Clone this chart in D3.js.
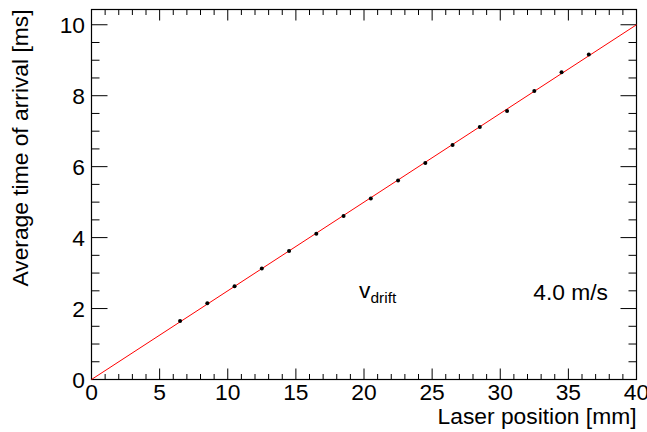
<!DOCTYPE html>
<html>
<head>
<meta charset="utf-8">
<script src="https://cdn.jsdelivr.net/npm/d3@7"></script>
<style>
  body { margin: 0; background: #fff; }
  text { font-family: "Liberation Sans", Arial, sans-serif; fill: #000; }
</style>
</head>
<body>
<div id="chart"></div>
<script>
// measured points
var positions = [6.5, 8.5, 10.5, 12.5, 14.5, 16.5, 18.5, 20.5, 22.5, 24.5, 26.5, 28.5, 30.5, 32.5, 34.5, 36.5];
var arrivalTimes = [1.65, 2.15, 2.63, 3.13, 3.62, 4.11, 4.61, 5.10, 5.61, 6.10, 6.61, 7.12, 7.57, 8.13, 8.66, 9.16];
// fit line: t = x / v, v = 4.0 m/s
var fitX = [0, 40];
var fitY = [0, 10];
var xTicks = [0, 5, 10, 15, 20, 25, 30, 35, 40];
var yTicks = [0, 2, 4, 6, 8, 10];

function drawChart() {
    var W = 647, H = 432;
    var pLeft = 91.5, pRight = 636.5, pTop = 9.5, pBottom = 379.5;
    var fs = 22.8;

    var svg = d3.select('#chart').append('svg')
        .attr('width', W).attr('height', H);

    var x = d3.scaleLinear().domain([0, 40]).range([pLeft, pRight]);
    var y = d3.scaleLinear().domain([0, 10.43]).range([pBottom, pTop]);

    var g = svg.append('g');

    // ticks, ROOT style: inside the frame on all four sides
    var xMinor = d3.range(0, 40 + 1e-9, 1), yMinor = d3.range(0, 10.43, 0.5);

    xMinor.forEach(function (v) {
        var len = (v % 5 === 0) ? 11 : 5.5;
        g.append('line').attr('x1', x(v)).attr('x2', x(v))
            .attr('y1', pBottom).attr('y2', pBottom - len)
            .attr('stroke', '#000').attr('stroke-width', 1);
        g.append('line').attr('x1', x(v)).attr('x2', x(v))
            .attr('y1', pTop).attr('y2', pTop + len)
            .attr('stroke', '#000').attr('stroke-width', 1);
    });
    yMinor.forEach(function (v) {
        var len = (v % 2 === 0) ? 16 : 8;
        g.append('line').attr('y1', y(v)).attr('y2', y(v))
            .attr('x1', pLeft).attr('x2', pLeft + len)
            .attr('stroke', '#000').attr('stroke-width', 1);
        g.append('line').attr('y1', y(v)).attr('y2', y(v))
            .attr('x1', pRight).attr('x2', pRight - len)
            .attr('stroke', '#000').attr('stroke-width', 1);
    });

    // frame
    g.append('rect').attr('x', pLeft).attr('y', pTop)
        .attr('width', pRight - pLeft).attr('height', pBottom - pTop)
        .attr('fill', 'none').attr('stroke', '#000').attr('stroke-width', 1.2);

    // tick labels
    svg.selectAll('.xl').data(xTicks).enter().append('text')
        .attr('x', function (d) { return x(d); })
        .attr('y', 400)
        .attr('text-anchor', 'middle')
        .attr('font-size', fs)
        .text(function (d) { return d; });

    svg.selectAll('.yl').data(yTicks).enter().append('text')
        .attr('x', 85)
        .attr('y', function (d) { return y(d) + 8; })
        .attr('text-anchor', 'end')
        .attr('font-size', fs)
        .text(function (d) { return d; });

    // axis titles
    svg.append('text')
        .attr('x', pRight).attr('y', 424)
        .attr('text-anchor', 'end').attr('font-size', fs)
        .text('Laser position [mm]');

    svg.append('text')
        .attr('transform', 'translate(28,' + pTop + ') rotate(-90)')
        .attr('text-anchor', 'end').attr('font-size', fs)
        .text('Average time of arrival [ms]');

    // fit line
    svg.append('path')
        .datum(d3.zip(fitX, fitY))
        .attr('d', d3.line().x(function (d) { return x(d[0]); }).y(function (d) { return y(d[1]); }))
        .attr('stroke', '#ff0000').attr('stroke-width', 1).attr('fill', 'none');

    // points
    svg.selectAll('.pt').data(d3.zip(positions, arrivalTimes)).enter().append('circle')
        .attr('cx', function (d) { return x(d[0]); })
        .attr('cy', function (d) { return y(d[1]); })
        .attr('r', 2)
        .attr('fill', '#000');

    // annotation
    var vt = svg.append('text').attr('x', 359).attr('y', 298).attr('font-size', fs);
    vt.append('tspan').text('v');
    vt.append('tspan').attr('dy', 5).attr('font-size', 15.5).text('drift');

    svg.append('text').attr('x', 608).attr('y', 300)
        .attr('text-anchor', 'end').attr('font-size', fs)
        .text('4.0 m/s');
}

drawChart();
</script>
</body>
</html>
